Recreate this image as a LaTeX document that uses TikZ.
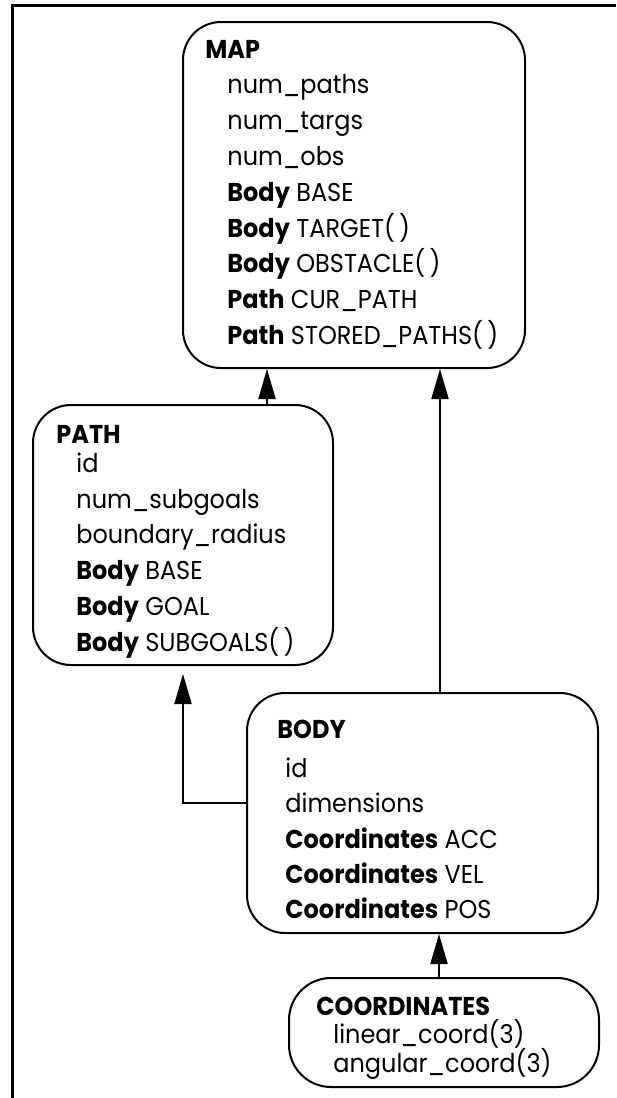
\documentclass[tikz,border=0pt]{standalone}
\usepackage{fontspec}
\setmainfont{Poppins}[FakeStretch=0.93]
\usetikzlibrary{arrows.meta}
\begin{document}
\begin{tikzpicture}[x=0.5pt, y=-0.5pt,
  box/.style={draw, line width=1pt, rounded corners=19pt, inner sep=0pt},
  lbl/.style={anchor=base west, inner sep=0pt, font=\fontsize{12.9}{14}\selectfont},
  ttl/.style={anchor=base west, inner sep=0pt, font=\fontsize{12.9}{14}\selectfont\bfseries},
  arr/.style={line width=1pt, -{Triangle[length=15pt,width=8.5pt]}},
  frameline/.style={line width=1.5pt}]
\useasboundingbox (0,0) rectangle (616,1098);
\coordinate (fb) at (12,1098);
\coordinate (fc) at (12,5);
\coordinate (fr) at (616,5);
\draw[frameline] (fb) -- (fc) -- (fr);

% boxes
\node[box, minimum width=171pt, minimum height=173pt] (mapbox) at (354,195) {};
\node[box, minimum width=150pt, minimum height=130pt] (pathbox) at (183,535) {};
\node[box, minimum width=175.5pt, minimum height=120pt] (bodybox) at (422.5,813) {};
\node[box, minimum width=155pt, minimum height=54.5pt, rounded corners=21pt] (coordbox) at (444,1032.5) {};

% MAP text
\node[ttl] (m0) at (205,58) {MAP};
\node[lbl] (m1) at (227,93.8) {num\_paths};
\node[lbl] (m2) at (227,129.6) {num\_targs};
\node[lbl] (m3) at (227,165.4) {num\_obs};
\node[lbl] (m4) at (227,201.2) {\textbf{Body} BASE};
\node[lbl] (m5) at (227,237) {\textbf{Body} TARGET(\,)};
\node[lbl] (m6) at (227,272.8) {\textbf{Body} OBSTACLE(\,)};
\node[lbl] (m7) at (227,308.6) {\textbf{Path} CUR\_PATH};
\node[lbl] (m8) at (227,344.4) {\textbf{Path} STORED\_PATHS(\,)};

% PATH text
\node[ttl] (p0) at (56,443) {PATH};
\node[lbl] (p1) at (76,472) {id};
\node[lbl] (p2) at (76,508) {num\_subgoals};
\node[lbl] (p3) at (76,543) {boundary\_radius};
\node[lbl] (p4) at (76,579) {\textbf{Body} BASE};
\node[lbl] (p5) at (76,615) {\textbf{Body} GOAL};
\node[lbl] (p6) at (76,651) {\textbf{Body} SUBGOALS(\,)};

% BODY text
\node[ttl] (b0) at (277,738) {BODY};
\node[lbl] (b1) at (285,777) {id};
\node[lbl] (b2) at (285,812) {dimensions};
\node[lbl] (b3) at (285,848) {\textbf{Coordinates} ACC};
\node[lbl] (b4) at (285,883) {\textbf{Coordinates} VEL};
\node[lbl] (b5) at (285,918) {\textbf{Coordinates} POS};

% COORDINATES text
\node[ttl] (c0) at (316,1015) {COORDINATES};
\node[lbl] (c1) at (333,1043) {linear\_coord(3)};
\node[lbl] (c2) at (333,1072) {angular\_coord(3)};

% connectors
\draw[arr] ([xshift=42pt]pathbox.north) -- ([xshift=42pt]pathbox.north |- mapbox.south);
\draw[arr] ([xshift=8.75pt]bodybox.north) -- ([xshift=8.75pt]bodybox.north |- mapbox.south);
\draw[arr] ([xshift=-2.5pt]coordbox.north) -- ([xshift=-2.5pt]coordbox.north |- bodybox.south);
\draw[arr, shorten >=4pt] ([yshift=5pt]bodybox.west) -| (pathbox.south);
\end{tikzpicture}
\end{document}
